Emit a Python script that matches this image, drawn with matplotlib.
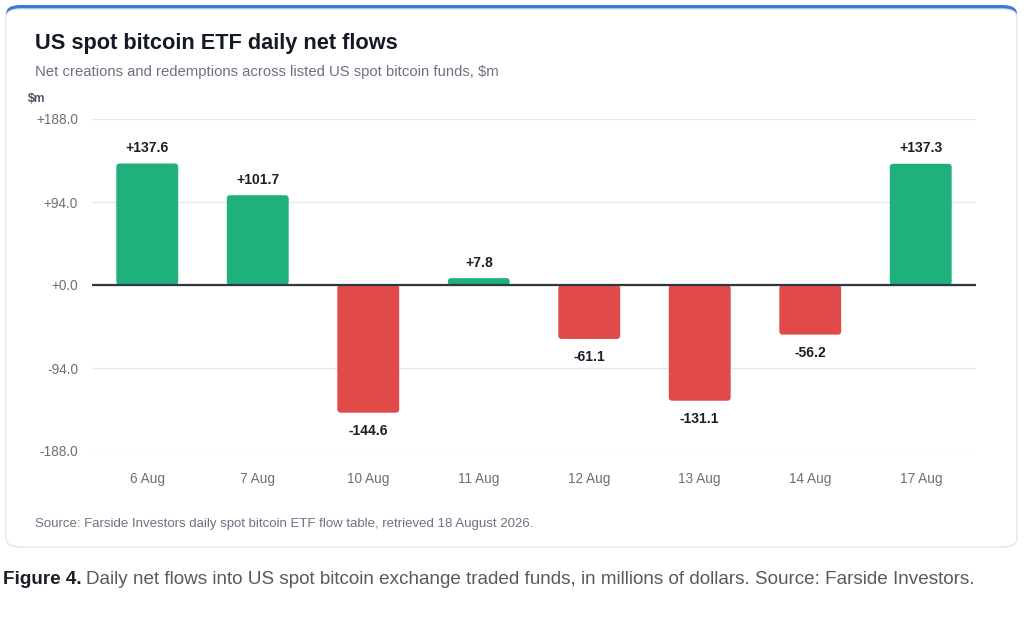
import matplotlib.pyplot as plt
from matplotlib.patches import FancyBboxPatch

days = ["6 Aug", "7 Aug", "10 Aug", "11 Aug", "12 Aug", "13 Aug", "14 Aug", "17 Aug"]
flows = [137.6, 101.7, -144.6, 7.8, -61.1, -131.1, -56.2, 137.3]
y_ticks = [-188.0, -94.0, 0.0, 94.0, 188.0]

GREEN = "#1fb07c"
RED = "#e24a4a"
FONT = "Liberation Sans"

plt.rcParams["font.family"] = [FONT, "DejaVu Sans"]

W, H = 1024, 634
fig = plt.figure(figsize=(W / 100, H / 100), dpi=100)
fig.patch.set_facecolor("white")


def fx(px):
    return px / W


def fy(py):
    return 1 - py / H


# card with blue top border
blue = FancyBboxPatch((fx(6), fy(547)), fx(1011), fy(5) - fy(547),
                      boxstyle="round,pad=0,rounding_size=0.014",
                      transform=fig.transFigure, facecolor="#3a7bd5",
                      edgecolor="none", zorder=0)
card = FancyBboxPatch((fx(6), fy(547)), fx(1011), fy(9) - fy(547),
                      boxstyle="round,pad=0,rounding_size=0.014",
                      transform=fig.transFigure, facecolor="white",
                      edgecolor="#e3e6ea", linewidth=1.0, zorder=0.5)
fig.patches.extend([blue, card])

ax = fig.add_axes([fx(92), fy(451), fx(976 - 92), fy(119) - fy(451)])
ax.set_zorder(2)
ax.set_facecolor("none")
ax.set_xlim(-0.5, len(days) - 0.5)
ax.set_ylim(-188, 188)

# rounded bars
px_per_x = (976 - 92) / len(days)
px_per_y = (451 - 119) / 376.0
bar_w = 0.56
r_px = 3.5
for i, v in enumerate(flows):
    color = GREEN if v >= 0 else RED
    bottom = min(0, v)
    h = abs(v)
    p = FancyBboxPatch((i - bar_w / 2, bottom), bar_w, h,
                       boxstyle=f"round,pad=0,rounding_size={r_px / px_per_x}",
                       mutation_aspect=px_per_x / px_per_y,
                       facecolor=color, edgecolor="none", zorder=2)
    ax.add_patch(p)
    label = f"{v:+.1f}"
    if v >= 0:
        ax.annotate(label, (i, v), xytext=(0, 6), textcoords="offset points",
                    ha="center", va="bottom", fontsize=10, fontweight="bold",
                    color="#1a1f27", zorder=4)
    else:
        ax.annotate(label, (i, v), xytext=(0, -8), textcoords="offset points",
                    ha="center", va="top", fontsize=10, fontweight="bold",
                    color="#1a1f27", zorder=4)

ax.axhline(0, color="#2f3842", linewidth=1.6, zorder=3)
ax.set_yticks(y_ticks)
ax.set_yticklabels([f"{t:+.1f}" if t != 0 else "+0.0" for t in y_ticks])
ax.grid(axis="y", color="#e4e7eb", linewidth=1.0, zorder=0)
ax.set_axisbelow(True)
ax.set_xticks(range(len(days)))
ax.set_xticklabels(days)
ax.tick_params(axis="both", length=0, labelsize=9.8, labelcolor="#6b7078")
ax.tick_params(axis="x", pad=15)
ax.tick_params(axis="y", pad=10)
for s in ax.spines.values():
    s.set_visible(False)

fig.text(fx(35), fy(44), "US spot bitcoin ETF daily net flows", fontsize=15.7,
         fontweight="bold", color="#141a24", va="center", ha="left")
fig.text(fx(35), fy(72), "Net creations and redemptions across listed US spot bitcoin funds, $m",
         fontsize=10.7, color="#6b7280", va="center", ha="left")
fig.text(fx(28), fy(99), "$m", fontsize=8.8, fontweight="bold", color="#4b5563",
         va="center", ha="left")
fig.text(fx(35), fy(524), "Source: Farside Investors daily spot bitcoin ETF flow table, retrieved 18 August 2026.",
         fontsize=9.5, color="#6b7280", va="center", ha="left")

fig.text(fx(3), fy(579), "Figure 4.", fontsize=13.6, fontweight="bold", color="#1a1f27",
         va="center", ha="left")
fig.text(fx(86), fy(579), "Daily net flows into US spot bitcoin exchange traded funds, in millions of dollars. Source: Farside Investors.",
         fontsize=13.6, color="#555b63", va="center", ha="left")

fig.savefig("out.png", dpi=100, facecolor="white")
